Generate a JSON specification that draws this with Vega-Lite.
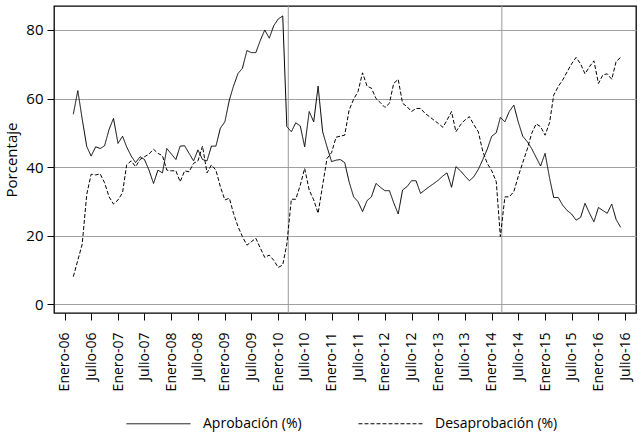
{
  "$schema": "https://vega.github.io/schema/vega-lite/v6.json",
  "width": 582,
  "height": 307,
  "autosize": {"type": "none"},
  "padding": {"left": 54, "top": 6, "right": 8, "bottom": 127},
  "background": "white",
  "config": {
    "view": {"stroke": "#000", "strokeWidth": 1.3},
    "font": "Open Sans",
    "axis": {
      "domain": false,
      "tickColor": "#000",
      "tickSize": 7,
      "labelColor": "#000",
      "titleColor": "#000",
      "titleFontWeight": "normal"
    },
    "axisX": {
      "title": null,
      "grid": false,
      "tickCount": {"interval": "month", "step": 6},
      "labelExpr": "(utcmonth(datum.value) == 0 ? 'Enero-' : 'Julio-') + utcFormat(datum.value, '%y')",
      "labelAngle": 270,
      "labelFontSize": 14,
      "labelPadding": 12,
      "labelOverlap": false,
      "labelFlush": false
    }
  },
  "datasets": {
    "hitos": [
      {"fecha": "2010-03-11"},
      {"fecha": "2014-03-11"}
    ],
    "encuesta": [
      {"fecha": "2006-03-01", "aprobacion": 55.4, "desaprobacion": 8.0},
      {"fecha": "2006-04-01", "aprobacion": 62.3, "desaprobacion": 12.8},
      {"fecha": "2006-05-01", "aprobacion": 54.0, "desaprobacion": 17.5},
      {"fecha": "2006-06-01", "aprobacion": 46.0, "desaprobacion": 32.0},
      {"fecha": "2006-07-01", "aprobacion": 43.2, "desaprobacion": 37.9},
      {"fecha": "2006-08-01", "aprobacion": 45.9, "desaprobacion": 37.7},
      {"fecha": "2006-09-01", "aprobacion": 45.4, "desaprobacion": 38.0},
      {"fecha": "2006-10-01", "aprobacion": 46.2, "desaprobacion": 35.4},
      {"fecha": "2006-11-01", "aprobacion": 51.0, "desaprobacion": 31.3},
      {"fecha": "2006-12-01", "aprobacion": 54.2, "desaprobacion": 29.2},
      {"fecha": "2007-01-01", "aprobacion": 46.9, "desaprobacion": 30.4},
      {"fecha": "2007-02-01", "aprobacion": 49.0, "desaprobacion": 32.5},
      {"fecha": "2007-03-01", "aprobacion": 45.9, "desaprobacion": 40.6},
      {"fecha": "2007-04-01", "aprobacion": 43.2, "desaprobacion": 41.8},
      {"fecha": "2007-05-01", "aprobacion": 41.3, "desaprobacion": 40.1},
      {"fecha": "2007-06-01", "aprobacion": 43.0, "desaprobacion": 42.2},
      {"fecha": "2007-07-01", "aprobacion": 42.2, "desaprobacion": 43.0},
      {"fecha": "2007-08-01", "aprobacion": 39.1, "desaprobacion": 43.8},
      {"fecha": "2007-09-01", "aprobacion": 35.2, "desaprobacion": 45.2},
      {"fecha": "2007-10-01", "aprobacion": 39.1, "desaprobacion": 44.0},
      {"fecha": "2007-11-01", "aprobacion": 38.3, "desaprobacion": 43.3},
      {"fecha": "2007-12-01", "aprobacion": 45.4, "desaprobacion": 39.1},
      {"fecha": "2008-01-01", "aprobacion": 43.8, "desaprobacion": 38.9},
      {"fecha": "2008-02-01", "aprobacion": 42.2, "desaprobacion": 38.9},
      {"fecha": "2008-03-01", "aprobacion": 46.1, "desaprobacion": 35.7},
      {"fecha": "2008-04-01", "aprobacion": 46.2, "desaprobacion": 38.9},
      {"fecha": "2008-05-01", "aprobacion": 44.0, "desaprobacion": 38.6},
      {"fecha": "2008-06-01", "aprobacion": 41.8, "desaprobacion": 41.1},
      {"fecha": "2008-07-01", "aprobacion": 45.0, "desaprobacion": 41.8},
      {"fecha": "2008-08-01", "aprobacion": 42.2, "desaprobacion": 46.1},
      {"fecha": "2008-09-01", "aprobacion": 41.8, "desaprobacion": 38.3},
      {"fecha": "2008-10-01", "aprobacion": 46.1, "desaprobacion": 40.6},
      {"fecha": "2008-11-01", "aprobacion": 46.1, "desaprobacion": 39.1},
      {"fecha": "2008-12-01", "aprobacion": 51.3, "desaprobacion": 34.3},
      {"fecha": "2009-01-01", "aprobacion": 53.2, "desaprobacion": 30.4},
      {"fecha": "2009-02-01", "aprobacion": 59.6, "desaprobacion": 30.9},
      {"fecha": "2009-03-01", "aprobacion": 63.6, "desaprobacion": 26.5},
      {"fecha": "2009-04-01", "aprobacion": 67.3, "desaprobacion": 22.6},
      {"fecha": "2009-05-01", "aprobacion": 68.8, "desaprobacion": 19.7},
      {"fecha": "2009-06-01", "aprobacion": 74.0, "desaprobacion": 17.2},
      {"fecha": "2009-07-01", "aprobacion": 73.4, "desaprobacion": 18.2},
      {"fecha": "2009-08-01", "aprobacion": 73.4, "desaprobacion": 19.2},
      {"fecha": "2009-09-01", "aprobacion": 77.0, "desaprobacion": 16.3},
      {"fecha": "2009-10-01", "aprobacion": 80.0, "desaprobacion": 13.6},
      {"fecha": "2009-11-01", "aprobacion": 77.6, "desaprobacion": 14.3},
      {"fecha": "2009-12-01", "aprobacion": 81.2, "desaprobacion": 12.8},
      {"fecha": "2010-01-01", "aprobacion": 83.2, "desaprobacion": 10.7},
      {"fecha": "2010-02-01", "aprobacion": 84.1, "desaprobacion": 11.4},
      {"fecha": "2010-03-01", "aprobacion": 51.8, "desaprobacion": 17.5},
      {"fecha": "2010-04-01", "aprobacion": 50.3, "desaprobacion": 30.6},
      {"fecha": "2010-05-01", "aprobacion": 52.9, "desaprobacion": 30.6},
      {"fecha": "2010-06-01", "aprobacion": 52.0, "desaprobacion": 34.7},
      {"fecha": "2010-07-01", "aprobacion": 45.9, "desaprobacion": 39.6},
      {"fecha": "2010-08-01", "aprobacion": 56.2, "desaprobacion": 33.3},
      {"fecha": "2010-09-01", "aprobacion": 53.2, "desaprobacion": 30.4},
      {"fecha": "2010-10-01", "aprobacion": 63.6, "desaprobacion": 26.5},
      {"fecha": "2010-11-01", "aprobacion": 50.3, "desaprobacion": 34.7},
      {"fecha": "2010-12-01", "aprobacion": 45.9, "desaprobacion": 42.5},
      {"fecha": "2011-01-01", "aprobacion": 41.6, "desaprobacion": 44.2},
      {"fecha": "2011-02-01", "aprobacion": 42.0, "desaprobacion": 48.7},
      {"fecha": "2011-03-01", "aprobacion": 42.2, "desaprobacion": 49.0},
      {"fecha": "2011-04-01", "aprobacion": 41.3, "desaprobacion": 49.3},
      {"fecha": "2011-05-01", "aprobacion": 35.7, "desaprobacion": 56.6},
      {"fecha": "2011-06-01", "aprobacion": 31.3, "desaprobacion": 59.8},
      {"fecha": "2011-07-01", "aprobacion": 29.9, "desaprobacion": 62.0},
      {"fecha": "2011-08-01", "aprobacion": 27.0, "desaprobacion": 67.5},
      {"fecha": "2011-09-01", "aprobacion": 30.2, "desaprobacion": 63.6},
      {"fecha": "2011-10-01", "aprobacion": 31.3, "desaprobacion": 63.0},
      {"fecha": "2011-11-01", "aprobacion": 35.2, "desaprobacion": 60.0},
      {"fecha": "2011-12-01", "aprobacion": 34.1, "desaprobacion": 58.8},
      {"fecha": "2012-01-01", "aprobacion": 33.1, "desaprobacion": 57.4},
      {"fecha": "2012-02-01", "aprobacion": 33.1, "desaprobacion": 58.6},
      {"fecha": "2012-03-01", "aprobacion": 29.6, "desaprobacion": 64.4},
      {"fecha": "2012-04-01", "aprobacion": 26.3, "desaprobacion": 65.6},
      {"fecha": "2012-05-01", "aprobacion": 33.3, "desaprobacion": 58.6},
      {"fecha": "2012-06-01", "aprobacion": 34.3, "desaprobacion": 57.6},
      {"fecha": "2012-07-01", "aprobacion": 36.0, "desaprobacion": 56.2},
      {"fecha": "2012-08-01", "aprobacion": 36.0, "desaprobacion": 57.1},
      {"fecha": "2012-09-01", "aprobacion": 32.3, "desaprobacion": 57.1},
      {"fecha": "2012-10-01", "aprobacion": 33.3, "desaprobacion": 55.7},
      {"fecha": "2012-11-01", "aprobacion": 34.3, "desaprobacion": 54.7},
      {"fecha": "2012-12-01", "aprobacion": 35.2, "desaprobacion": 53.7},
      {"fecha": "2013-01-01", "aprobacion": 36.2, "desaprobacion": 52.7},
      {"fecha": "2013-02-01", "aprobacion": 37.4, "desaprobacion": 51.6},
      {"fecha": "2013-03-01", "aprobacion": 38.3, "desaprobacion": 53.7},
      {"fecha": "2013-04-01", "aprobacion": 34.1, "desaprobacion": 56.2},
      {"fecha": "2013-05-01", "aprobacion": 40.1, "desaprobacion": 50.3},
      {"fecha": "2013-06-01", "aprobacion": 38.9, "desaprobacion": 52.3},
      {"fecha": "2013-07-01", "aprobacion": 37.4, "desaprobacion": 53.7},
      {"fecha": "2013-08-01", "aprobacion": 36.0, "desaprobacion": 54.7},
      {"fecha": "2013-09-01", "aprobacion": 37.2, "desaprobacion": 52.3},
      {"fecha": "2013-10-01", "aprobacion": 39.3, "desaprobacion": 50.3},
      {"fecha": "2013-11-01", "aprobacion": 42.2, "desaprobacion": 44.5},
      {"fecha": "2013-12-01", "aprobacion": 45.2, "desaprobacion": 41.1},
      {"fecha": "2014-01-01", "aprobacion": 49.0, "desaprobacion": 38.9},
      {"fecha": "2014-02-01", "aprobacion": 50.0, "desaprobacion": 35.7},
      {"fecha": "2014-03-01", "aprobacion": 54.5, "desaprobacion": 19.7},
      {"fecha": "2014-04-01", "aprobacion": 53.2, "desaprobacion": 31.3},
      {"fecha": "2014-05-01", "aprobacion": 56.2, "desaprobacion": 31.3},
      {"fecha": "2014-06-01", "aprobacion": 58.1, "desaprobacion": 32.8},
      {"fecha": "2014-07-01", "aprobacion": 53.2, "desaprobacion": 37.2},
      {"fecha": "2014-08-01", "aprobacion": 49.0, "desaprobacion": 41.3},
      {"fecha": "2014-09-01", "aprobacion": 47.4, "desaprobacion": 45.2},
      {"fecha": "2014-10-01", "aprobacion": 45.4, "desaprobacion": 49.8},
      {"fecha": "2014-11-01", "aprobacion": 42.8, "desaprobacion": 52.6},
      {"fecha": "2014-12-01", "aprobacion": 40.3, "desaprobacion": 51.8},
      {"fecha": "2015-01-01", "aprobacion": 44.0, "desaprobacion": 49.3},
      {"fecha": "2015-02-01", "aprobacion": 36.7, "desaprobacion": 53.0},
      {"fecha": "2015-03-01", "aprobacion": 31.1, "desaprobacion": 61.0},
      {"fecha": "2015-04-01", "aprobacion": 31.1, "desaprobacion": 63.5},
      {"fecha": "2015-05-01", "aprobacion": 28.9, "desaprobacion": 65.4},
      {"fecha": "2015-06-01", "aprobacion": 27.3, "desaprobacion": 67.8},
      {"fecha": "2015-07-01", "aprobacion": 26.3, "desaprobacion": 70.1},
      {"fecha": "2015-08-01", "aprobacion": 24.5, "desaprobacion": 72.0},
      {"fecha": "2015-09-01", "aprobacion": 25.3, "desaprobacion": 70.1},
      {"fecha": "2015-10-01", "aprobacion": 29.4, "desaprobacion": 67.2},
      {"fecha": "2015-11-01", "aprobacion": 26.5, "desaprobacion": 69.3},
      {"fecha": "2015-12-01", "aprobacion": 24.0, "desaprobacion": 71.0},
      {"fecha": "2016-01-01", "aprobacion": 28.2, "desaprobacion": 64.4},
      {"fecha": "2016-02-01", "aprobacion": 27.3, "desaprobacion": 66.9},
      {"fecha": "2016-03-01", "aprobacion": 26.5, "desaprobacion": 67.2},
      {"fecha": "2016-04-01", "aprobacion": 29.2, "desaprobacion": 65.6},
      {"fecha": "2016-05-01", "aprobacion": 24.7, "desaprobacion": 70.8},
      {"fecha": "2016-06-01", "aprobacion": 22.4, "desaprobacion": 72.0}
    ]
  },
  "layer": [
    {
      "data": {"name": "hitos"},
      "mark": {"type": "rule", "color": "#9a9a9a", "strokeWidth": 1},
      "encoding": {
        "x": {
          "field": "fecha",
          "type": "temporal",
          "title": null,
          "scale": {
            "type": "utc",
            "domain": [
              {"year": 2005, "month": 10, "date": 20, "utc": true},
              {"year": 2016, "month": 9, "date": 14, "utc": true}
            ]
          }
        }
      }
    },
    {
      "data": {"name": "encuesta"},
      "transform": [{"fold": ["aprobacion", "desaprobacion"], "as": ["serie", "valor"]}],
      "mark": {"type": "line", "color": "#000", "strokeWidth": 1},
      "encoding": {
        "x": {
          "field": "fecha",
          "type": "temporal",
          "title": null,
          "scale": {
            "type": "utc",
            "domain": [
              {"year": 2005, "month": 10, "date": 20, "utc": true},
              {"year": 2016, "month": 9, "date": 14, "utc": true}
            ]
          }
        },
        "y": {
          "field": "valor",
          "type": "quantitative",
          "scale": {"domain": [-2.6, 87], "nice": false, "zero": false},
          "axis": {
            "title": "Porcentaje",
            "titleFontSize": 15,
            "titlePadding": 6,
            "values": [0, 20, 40, 60, 80],
            "labelFontSize": 15,
            "labelPadding": 4,
            "grid": true,
            "gridColor": "#a0a0a0",
            "gridWidth": 1
          }
        },
        "strokeDash": {
          "field": "serie",
          "type": "nominal",
          "scale": {"domain": ["aprobacion", "desaprobacion"], "range": [[1, 0], [4, 2]]},
          "legend": {
            "title": null,
            "orient": "none",
            "legendX": 72,
            "legendY": 385,
            "direction": "horizontal",
            "padding": 0,
            "symbolType": "stroke",
            "symbolSize": 4096,
            "symbolStrokeColor": "#000",
            "symbolStrokeWidth": 1,
            "labelFontSize": 14,
            "labelColor": "#000",
            "labelOffset": 12,
            "columnPadding": 54,
            "labelExpr": "datum.value == 'aprobacion' ? 'Aprobación (%)' : 'Desaprobación (%)'"
          }
        }
      }
    }
  ]
}
